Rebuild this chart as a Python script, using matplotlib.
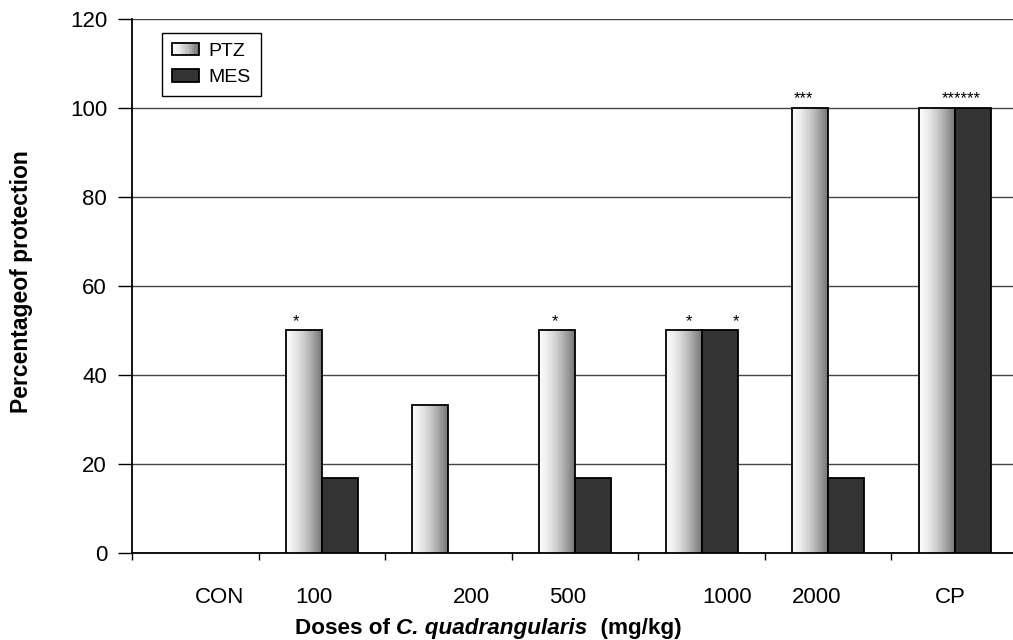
import matplotlib
matplotlib.use("Agg")
import matplotlib.pyplot as plt
from matplotlib.patches import Rectangle
from matplotlib.legend_handler import HandlerBase
from matplotlib.transforms import ScaledTranslation
import numpy as np

plt.rcParams['font.family'] = ['Liberation Sans', 'DejaVu Sans']

# data
doses = ['CON', '100', '200', '500', '1000', '2000', 'CP']
ptz = [0, 50, 33.3, 50, 50, 100, 100]
mes = [0, 16.7, 0, 16.7, 50, 16.7, 100]

# significance marks: (group, series, text)
stars = [(1, 'ptz', '*'), (3, 'ptz', '*'), (4, 'ptz', '*'), (4, 'mes', '*'),
         (5, 'ptz', '***'), (6, 'both', '******')]
star_dx = [-0.062, -0.02, 0.045, 0.13, -0.05, 0.05]

# label nudges in pixels (the original labels are not centred)
label_dx = [24, -8, 23, -7, 25, -12, -4]

W, H = 1013, 640
fig = plt.figure(figsize=(W / 100, H / 100), dpi=100)
ax = fig.add_axes([132 / W, 1 - 552.7 / H, 886 / W, (552.7 - 19.3) / H])

w = 0.284
x = np.arange(len(doses))
mes_col = '#333333'


def grad_values(n=64):
    t = np.linspace(0, 1, n)
    return 0.98 - 0.52 * t ** 1.5


g = grad_values()[np.newaxis, :]
for i in range(len(doses)):
    if ptz[i] > 0:
        x0 = x[i] - w
        b = ax.bar(x0, ptz[i], width=w, align='edge', facecolor='none',
                   edgecolor='black', linewidth=1.3, zorder=4)[0]
        im = ax.imshow(g, extent=[x0, x0 + w, 0, ptz[i]], aspect='auto',
                       cmap='gray', vmin=0, vmax=1, zorder=3,
                       interpolation='bilinear')
        im.set_clip_path(b)
    if mes[i] > 0:
        ax.bar(x[i], mes[i], width=w, align='edge', color=mes_col,
               edgecolor='black', linewidth=1.3, zorder=4)

for (gi, ser, txt), dx in zip(stars, star_dx):
    if ser == 'ptz':
        cx, top = x[gi] - w / 2, ptz[gi]
    elif ser == 'mes':
        cx, top = x[gi] + w / 2, mes[gi]
    else:
        cx, top = x[gi], max(ptz[gi], mes[gi])
    ax.text(cx + dx, top + 0.4, txt, ha='center', va='bottom', fontsize=12,
            zorder=6)

ax.set_xlim(-0.5, len(doses) - 0.5)
ax.set_ylim(0, 120)
ax.set_yticks(np.arange(0, 121, 20))
ax.yaxis.grid(True, color='#444444', linewidth=1.0, zorder=0)
ax.set_axisbelow(True)

ax.set_xticks(np.arange(-0.5, len(doses), 1.0))
ax.set_xticklabels([])
ax.set_xticks(x, minor=True)
ax.set_xticklabels(doses, minor=True, fontsize=16)
ax.tick_params(axis='x', which='major', direction='out', length=5, width=1)
ax.tick_params(axis='x', which='minor', length=0, pad=25)
ax.tick_params(axis='y', direction='out', length=10, width=1, labelsize=16,
               pad=8)
for lab, dx in zip(ax.get_xticklabels(minor=True), label_dx):
    lab.set_transform(lab.get_transform() +
                      ScaledTranslation(dx / 100, 0, fig.dpi_scale_trans))

for s in ['top', 'right']:
    ax.spines[s].set_visible(False)
for s in ['left', 'bottom']:
    ax.spines[s].set_linewidth(1.3)


class GradHandler(HandlerBase):
    def create_artists(self, legend, orig_handle, xdescent, ydescent,
                       width, height, fontsize, trans):
        vals = grad_values(12)
        out = []
        step = width / len(vals)
        for k, v in enumerate(vals):
            out.append(Rectangle((-xdescent + k * step, -ydescent), step * 1.05,
                                 height, facecolor=str(v), edgecolor='none',
                                 transform=trans))
        out.append(Rectangle((-xdescent, -ydescent), width, height,
                             facecolor='none', edgecolor='black', linewidth=1.3,
                             transform=trans))
        return out


h_ptz = Rectangle((0, 0), 1, 1)
h_mes = Rectangle((0, 0), 1, 1, facecolor=mes_col, edgecolor='black',
                  linewidth=1.3)
leg = fig.legend([h_ptz, h_mes], ['PTZ', 'MES'],
                 handler_map={h_ptz: GradHandler()},
                 loc='upper left', bbox_to_anchor=(162 / W, 1 - 33 / H),
                 fontsize=14, frameon=True, fancybox=False, edgecolor='black',
                 framealpha=1, handlelength=1.4, handleheight=0.6,
                 handletextpad=0.5, labelspacing=0.5, borderpad=0.5,
                 borderaxespad=0)
leg.get_frame().set_linewidth(1.0)

fig.text(22 / W, 1 - 282 / H, 'Percentageof protection', rotation=90,
         ha='center', va='center', fontsize=16.5, weight='bold')

t1 = fig.text(295 / W, 1 - 639 / H, 'Doses of ', fontsize=16.2,
              weight='bold', va='bottom')
t2 = ax.annotate('C. quadrangularis', xy=(1, 0), xycoords=t1, va='bottom',
                 fontsize=16.2, weight='bold', style='italic',
                 annotation_clip=False)
ax.annotate('  (mg/kg)', xy=(1, 0), xycoords=t2, va='bottom',
            fontsize=16.2, weight='bold', annotation_clip=False)

fig.savefig('out.png', dpi=100)
